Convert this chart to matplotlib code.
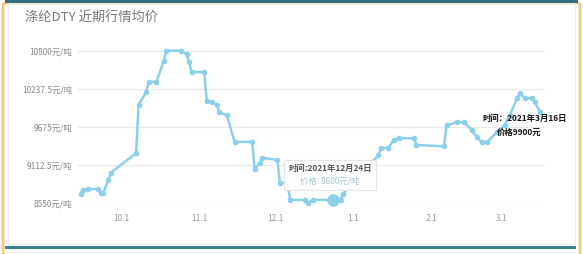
import matplotlib.pyplot as plt
from matplotlib.patches import FancyBboxPatch, Rectangle
from matplotlib.offsetbox import TextArea, VPacker, AnnotationBbox
from datetime import datetime

plt.rcParams['font.family'] = ['Noto Sans CJK SC', 'DejaVu Sans']

# price series (date, 元/吨)
dates = ["2021-09-15", "2021-09-16", "2021-09-18", "2021-09-22", "2021-09-23", "2021-09-24",
         "2021-09-26", "2021-09-27", "2021-10-07", "2021-10-08", "2021-10-11", "2021-10-12",
         "2021-10-15", "2021-10-18", "2021-10-19", "2021-10-25", "2021-10-27", "2021-10-28",
         "2021-10-29", "2021-11-03", "2021-11-04", "2021-11-06", "2021-11-08", "2021-11-09",
         "2021-11-12", "2021-11-15", "2021-11-22", "2021-11-23", "2021-11-25", "2021-11-26",
         "2021-12-02", "2021-12-03", "2021-12-06", "2021-12-07", "2021-12-13", "2021-12-14",
         "2021-12-16", "2021-12-24", "2021-12-27", "2021-12-28", "2022-01-11", "2022-01-12",
         "2022-01-15", "2022-01-17", "2022-01-19", "2022-01-25", "2022-01-26", "2022-02-06",
         "2022-02-07", "2022-02-11", "2022-02-14", "2022-02-17", "2022-02-19", "2022-02-21",
         "2022-02-23", "2022-02-27", "2022-03-02", "2022-03-04", "2022-03-07", "2022-03-08",
         "2022-03-10", "2022-03-13", "2022-03-14", "2022-03-16"]
prices = [8690, 8750, 8760, 8760, 8700, 8700,
          8890, 9000, 9290, 10000, 10190, 10340,
          10340, 10650, 10800, 10800, 10750, 10630,
          10485, 10485, 10060, 10040, 10000, 9890,
          9850, 9455, 9455, 9050, 9150, 9220,
          9190, 8850, 8850, 8600, 8600, 8555,
          8600, 8600, 8600, 8690, 9260, 9365,
          9365, 9480, 9510, 9510, 9410, 9390,
          9700, 9745, 9745, 9630, 9525, 9450,
          9450, 9600, 9700, 9850, 10100, 10170,
          10100, 10100, 10040, 9900]
y_ticks = [8550, 9112.5, 9675, 10237.5, 10800]
x_ticks = ["2021-10-01", "2021-11-01", "2021-12-01", "2022-01-01", "2022-02-01", "2022-03-01"]
x_labels = ["10.1", "11.1", "12.1", "1.1", "2.1", "3.1"]

x = [datetime.strptime(d, "%Y-%m-%d") for d in dates]
W, H = 583, 254
fig = plt.figure(figsize=(W / 100, H / 100), dpi=100)

# frame decoration
fig.patches.append(FancyBboxPatch((3 / W, -10 / H), 577 / W, 262 / H, boxstyle="round,pad=0,rounding_size=0.015",
                                  transform=fig.transFigure, fc="white", ec="#f8c67c", lw=2, zorder=-3))
fig.patches.append(Rectangle((8 / W, 10 / H), 567 / W, 240 / H, transform=fig.transFigure,
                             fc="none", ec="#ececec", lw=0.8, zorder=-2))
fig.patches.append(Rectangle((5 / W, 251 / H), 573 / W, 3 / H, transform=fig.transFigure,
                             fc="#2f6f7e", ec="none", zorder=-1))
fig.patches.append(Rectangle((5 / W, 5 / H), 571 / W, 3 / H, transform=fig.transFigure,
                             fc="#3a7e91", ec="none", zorder=-1))
fig.text(25 / W, 1 - 17 / H, "涤纶DTY 近期行情均价", fontsize=9.5, color="#777777", va="center", ha="left")

ax = fig.add_axes([78 / W, 1 - 203.3 / H, 467 / W, 152.6 / H])
ax.set_zorder(2)
ax.set_facecolor("none")
ax.plot(x, prices, color="#8ccfe9", lw=1.8, marker="o", ms=3, clip_on=False, zorder=3)

ax.set_ylim(8550, 10800)
ax.set_xlim(datetime(2021, 9, 14), datetime(2022, 3, 18))
ax.set_yticks(y_ticks)
ax.set_yticklabels([f"{v:g}元/吨" for v in y_ticks], fontsize=6, color="#888888")
ax.set_xticks([datetime.strptime(d, "%Y-%m-%d") for d in x_ticks])
ax.set_xticklabels(x_labels, fontsize=6, color="#999999")
ax.tick_params(length=0)
ax.tick_params(axis="y", pad=4)
ax.tick_params(axis="x", pad=8)
ax.grid(axis="y", color="#e9e9e9", lw=0.9)
for s in ax.spines.values():
    s.set_visible(False)

# tooltip on 2021-12-24
i = dates.index("2021-12-24")
ax.plot(x[i], prices[i], "o", ms=8, color="#8ccfe9", zorder=4, clip_on=False)
tip = VPacker(children=[
    TextArea("时间:2021年12月24日", textprops=dict(fontsize=6, color="#555555", fontweight="bold")),
    TextArea("价格: 8600元/吨", textprops=dict(fontsize=6, color="#a6c3d2")),
], align="center", pad=0, sep=3)
ab = AnnotationBbox(tip, (x[i], prices[i]), xybox=(-2, 18), boxcoords="offset points",
                    frameon=True, pad=0.6, annotation_clip=False,
                    bboxprops=dict(boxstyle="square", fc="white", ec="#e4e4e4", lw=0.8, alpha=0.95))
ab.set_zorder(5)
ax.add_artist(ab)

# label on last point
ax.annotate("时间：2021年3月16日", (x[-1], prices[-1]), xytext=(-11, -4.5), textcoords="offset points",
            ha="center", va="center", fontsize=6, color="#111111", fontweight="bold", zorder=6)
ax.annotate("价格9900元", (x[-1], prices[-1]), xytext=(-15, -14.5), textcoords="offset points",
            ha="center", va="center", fontsize=6, color="#111111", fontweight="bold", zorder=6)

fig.savefig("out.png", dpi=100)
